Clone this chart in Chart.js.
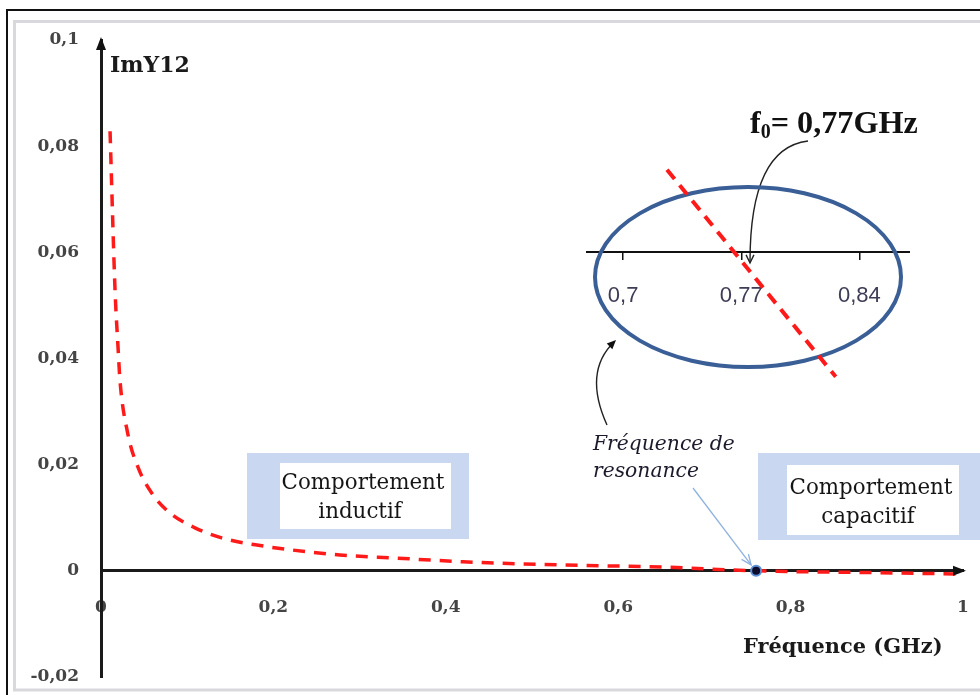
<!DOCTYPE html>
<html>
<head>
<meta charset="utf-8">
<script src="https://cdn.jsdelivr.net/npm/chart.js@4.4.1/dist/chart.umd.min.js"></script>
<style>
  html, body { margin: 0; padding: 0; background: #fff; overflow: hidden; }
  #wrap { position: relative; width: 980px; height: 695px; }
  #main { position: absolute; left: 0; top: 0; }
  #inset { position: absolute; left: 586px; top: 150px; }
</style>
</head>
<body>
<div id="wrap">
  <canvas id="main" width="980" height="695"></canvas>
  <canvas id="inset" width="324" height="240"></canvas>
</div>
<script>
// ---------- data ----------
const freqGHz = [0.0105, 0.0163, 0.0198, 0.022, 0.031, 0.043, 0.059, 0.08, 0.109, 0.14, 0.179, 0.277, 0.343, 0.42, 0.536, 0.652, 0.76, 0.88, 1.0];
const imY12   = [0.0828, 0.0528, 0.042, 0.0359, 0.0259, 0.0195, 0.0146, 0.0109, 0.0081, 0.0062, 0.0049, 0.0030, 0.0024, 0.0017, 0.0011, 0.0007, 0.0, -0.0003, -0.0006];
const resonanceFreq = [0.76];
const resonanceImY  = [0];
const yMin = -0.02, yMax = 0.1, yStep = 0.02;
const xMin = 0, xMax = 1, xStep = 0.2;
// zoomed inset around the resonance
const insetFreq  = [0.726, 0.826];
const insetImY   = [1.37, -2.08];
const insetTicks = [0.7, 0.77, 0.84];
const insetMin = 0.678, insetMax = 0.87;
// texts
const yTitle = 'ImY12';
const xTitle = 'Fréquence (GHz)';
const boxInductif = ['Comportement', 'inductif'];
const boxCapacitif = ['Comportement', 'capacitif'];
const resonanceText = ['Fréquence de', 'resonance'];
const f0Text = ['f', '0', '= 0,77GHz'];

const fmt = v => { let s = String(+Number(v).toFixed(2)); if (s === '-0') s = '0'; return s.replace('.', ','); };

function fitSize(ctx, text, style, family, targetW) {
  ctx.font = style + ' 100px ' + family;
  return 100 * targetW / ctx.measureText(text).width;
}
function arrowHeadFilled(c, x, y, ang, len, hw) {
  c.save(); c.translate(x, y); c.rotate(ang);
  c.beginPath(); c.moveTo(0, 0); c.lineTo(-len, -hw); c.lineTo(-len, hw); c.closePath(); c.fill();
  c.restore();
}
function arrowHeadOpen(c, x, y, ang, len, spread) {
  c.beginPath();
  c.moveTo(x - len * Math.cos(ang - spread), y - len * Math.sin(ang - spread));
  c.lineTo(x, y);
  c.lineTo(x - len * Math.cos(ang + spread), y - len * Math.sin(ang + spread));
  c.stroke();
}

const decor = {
  id: 'decor',
  beforeDraw(chart) {
    const c = chart.ctx;
    c.save();
    c.fillStyle = '#fff'; c.fillRect(0, 0, chart.width, chart.height);
    c.strokeStyle = '#111'; c.lineWidth = 2;
    c.beginPath(); c.moveTo(7, 695); c.lineTo(7, 10); c.lineTo(980, 10); c.stroke();
    c.strokeStyle = '#d9d9dd'; c.lineWidth = 3;
    c.beginPath(); c.moveTo(980, 21.5); c.lineTo(14.5, 21.5); c.lineTo(14.5, 690); c.lineTo(980, 690); c.stroke();
    c.restore();
  },
  beforeDatasetsDraw(chart) {
    const c = chart.ctx;
    c.save();
    const boxes = [
      {o: [247, 453, 222, 86], i: [280, 463, 171, 66], t: boxInductif, cx: 363, y1: 483, y2: 512},
      {o: [758, 453, 222, 87], i: [787, 465, 172, 70], t: boxCapacitif, cx: 871, y1: 488, y2: 517}
    ];
    boxes.forEach(b => {
      c.fillStyle = '#c9d7f1'; c.fillRect(...b.o);
      c.fillStyle = '#ffffff'; c.fillRect(...b.i);
      const s = fitSize(c, b.t[0], 'normal', '"DejaVu Serif"', 163);
      c.font = s.toFixed(1) + 'px "DejaVu Serif"';
      c.fillStyle = '#151515'; c.textAlign = 'center'; c.textBaseline = 'middle';
      c.fillText(b.t[0], b.cx, b.y1);
      c.fillText(b.t[1], b.cx - 3, b.y2);
    });
    c.restore();
  },
  afterDraw(chart) {
    const c = chart.ctx;
    const xs = chart.scales.x, ys = chart.scales.y;
    const x0 = xs.left, y0 = ys.getPixelForValue(0);
    c.save();
    c.fillStyle = '#111';
    // axis arrowheads
    arrowHeadFilled(c, x0, ys.top - 3, -Math.PI / 2, 13, 5);
    arrowHeadFilled(c, xs.right + 3, y0, 0, 13, 5);
    // axis titles
    let s = fitSize(c, yTitle, 'bold', '"DejaVu Serif"', 80);
    c.font = 'bold ' + s.toFixed(1) + 'px "DejaVu Serif"';
    c.fillStyle = '#1a1a1a'; c.textAlign = 'left'; c.textBaseline = 'alphabetic';
    c.fillText(yTitle, 110, 72);
    s = fitSize(c, xTitle, 'bold', '"DejaVu Serif"', 200);
    c.font = 'bold ' + s.toFixed(1) + 'px "DejaVu Serif"';
    c.textBaseline = 'middle';
    c.fillText(xTitle, 743, 648);
    // resonance text
    s = fitSize(c, resonanceText[0], 'italic', '"DejaVu Serif"', 142);
    c.font = 'italic ' + s.toFixed(1) + 'px "DejaVu Serif"';
    c.fillStyle = '#1a1a2a';
    c.fillText(resonanceText[0], 593, 445);
    c.fillText(resonanceText[1], 593, 472);
    // f0 label
    const S = 30;
    c.font = 'bold ' + S + 'px "Liberation Serif"';
    const wF = c.measureText(f0Text[0]).width, wRest = c.measureText(f0Text[2]).width;
    c.font = 'bold ' + (S * 0.62) + 'px "Liberation Serif"';
    const wSub = c.measureText(f0Text[1]).width;
    const k = 168 / (wF + wSub + wRest);
    const S2 = S * k;
    let x = 750; const base = 133;
    c.textBaseline = 'alphabetic'; c.fillStyle = '#111';
    c.font = 'bold ' + S2.toFixed(1) + 'px "Liberation Serif"';
    c.fillText(f0Text[0], x, base); x += wF * k;
    c.font = 'bold ' + (S2 * 0.62).toFixed(1) + 'px "Liberation Serif"';
    c.fillText(f0Text[1], x, base + S2 * 0.14); x += wSub * k;
    c.font = 'bold ' + S2.toFixed(1) + 'px "Liberation Serif"';
    c.fillText(f0Text[2], x, base);
    // curved black arrows
    c.strokeStyle = '#222'; c.lineWidth = 1.4;
    c.beginPath(); c.moveTo(808, 141); c.quadraticCurveTo(750, 148, 750, 262); c.stroke();
    arrowHeadOpen(c, 750, 263, Math.PI / 2, 9, 0.45);
    c.beginPath(); c.moveTo(607, 425); c.quadraticCurveTo(583, 372, 614, 342); c.stroke();
    arrowHeadFilled(c, 616, 340, Math.atan2(342 - 372, 614 - 583), 9, 4);
    // blue arrow to resonance point
    const px = xs.getPixelForValue(resonanceFreq[0]);
    c.strokeStyle = '#8fb2e0'; c.lineWidth = 1.3;
    const tx = px - 5, ty = y0 - 6;
    c.beginPath(); c.moveTo(693, 488); c.lineTo(tx, ty); c.stroke();
    arrowHeadOpen(c, tx, ty, Math.atan2(ty - 488, tx - 693), 11, 0.4);
    c.restore();
  }
};

new Chart(document.getElementById('main'), {
  type: 'line',
  data: {
    datasets: [
      {
        type: 'scatter',
        data: resonanceFreq.map((f, i) => ({x: f, y: resonanceImY[i]})),
        pointRadius: 5, pointBackgroundColor: '#0d0d2b', pointBorderColor: '#5b8fd6', pointBorderWidth: 2,
        order: 0
      },
      {
        data: freqGHz.map((f, i) => ({x: f, y: imY12[i]})),
        borderColor: '#ff1a1a', borderWidth: 3.5, borderDash: [12, 9],
        pointRadius: 0, fill: false, cubicInterpolationMode: 'monotone',
        order: 1
      }
    ]
  },
  options: {
    responsive: false, animation: false, devicePixelRatio: 1,
    layout: { padding: { left: 0, top: 40, right: 17, bottom: 18 } },
    plugins: { legend: { display: false }, tooltip: { enabled: false } },
    scales: {
      x: {
        type: 'linear', min: xMin, max: xMax, position: { y: 0 },
        afterFit: s => { s.paddingLeft = 0; s.paddingRight = 0; s.paddingTop = 0; s.paddingBottom = 0; },
        grid: { display: false },
        border: { display: true, color: '#1a1a1a', width: 3 },
        ticks: { stepSize: xStep, padding: 19, color: '#444',
                 font: { family: '"DejaVu Serif"', size: 17, weight: 'bold' },
                 callback: v => fmt(v) }
      },
      y: {
        type: 'linear', min: yMin, max: yMax, position: 'left',
        afterFit: s => { s.width = 101; s.paddingLeft = 0; s.paddingRight = 0; s.paddingTop = 0; s.paddingBottom = 0; },
        grid: { display: false },
        border: { display: true, color: '#1a1a1a', width: 3 },
        ticks: { stepSize: yStep, padding: 14, color: '#444',
                 font: { family: '"DejaVu Serif"', size: 17, weight: 'bold' },
                 callback: v => fmt(v) }
      }
    }
  },
  plugins: [decor]
});

const ellipsePlugin = {
  id: 'ellipse',
  beforeDatasetsDraw(chart) {
    const c = chart.ctx;
    c.save();
    c.strokeStyle = '#3a5e96'; c.lineWidth = 4;
    c.beginPath(); c.ellipse(748 - 586, 277 - 150, 153, 90, 0, 0, Math.PI * 2); c.stroke();
    c.restore();
  }
};

new Chart(document.getElementById('inset'), {
  type: 'line',
  data: {
    datasets: [{
      data: insetFreq.map((f, i) => ({x: f, y: insetImY[i]})),
      borderColor: '#ff1a1a', borderWidth: 4, borderDash: [12, 8], pointRadius: 0, fill: false
    }]
  },
  options: {
    responsive: false, animation: false, devicePixelRatio: 1,
    layout: { padding: 0 },
    plugins: { legend: { display: false }, tooltip: { enabled: false } },
    scales: {
      x: {
        type: 'linear', min: insetMin, max: insetMax, position: { y: 0 },
        afterFit: s => { s.paddingLeft = 0; s.paddingRight = 0; s.paddingTop = 0; s.paddingBottom = 0; },
        afterBuildTicks: s => { s.ticks = insetTicks.map(v => ({ value: v })); },
        grid: { display: true, drawOnChartArea: false, drawTicks: true, tickLength: 7, color: '#111', lineWidth: 1.5 },
        border: { display: true, color: '#111', width: 2 },
        ticks: { padding: 24, color: '#3d3d55', font: { family: '"Liberation Sans"', size: 22 },
                 callback: v => fmt(v) }
      },
      y: { type: 'linear', min: -2.3, max: 1.7, display: false }
    }
  },
  plugins: [ellipsePlugin]
});
</script>
</body>
</html>
